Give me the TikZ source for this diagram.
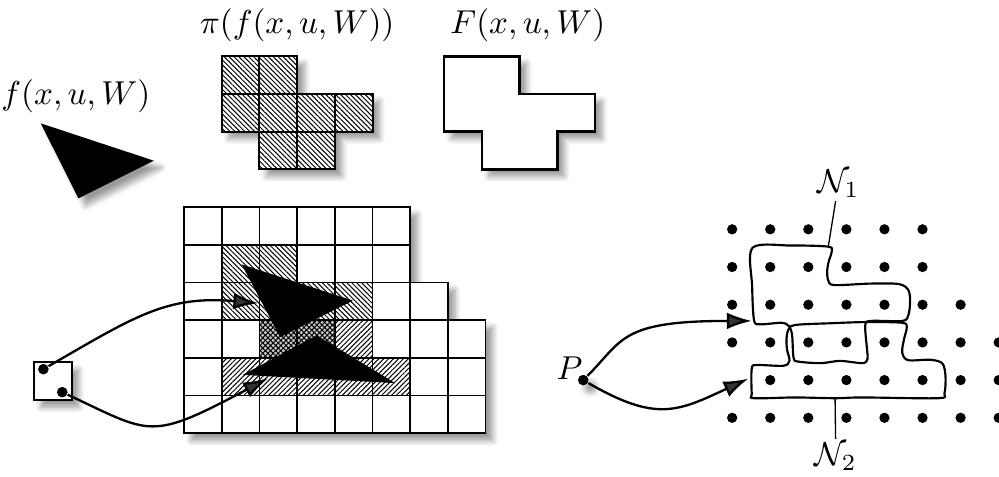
\documentclass[tikz,border=0pt]{standalone}
\usepackage{amsmath}
\usetikzlibrary{arrows.meta, patterns.meta, shadows.blur, calc}
\tikzset{
  gridcell/.style  = {draw=black, line width=0.5pt},
  picell/.style    = {draw=black, semithick},
  hatchnw/.style   = {pattern={Lines[angle=-45,distance=1.05pt,line width=0.3pt]}},
  hatchne/.style   = {pattern={Lines[angle=45,distance=1.05pt,line width=0.3pt]}},
  hatchx/.style    = {preaction={fill=black!22},
                      pattern={Hatch[angle=45,distance=1.1pt,line width=0.3pt]}},
  shadowed/.style  = {fill=white, blur shadow={shadow blur steps=6}},
  outline/.style   = {draw=black, thick},
  conn/.style      = {line width=0.7pt, -{Latex[length=7.5pt,width=5pt]}},
  region/.style    = {line width=0.65pt},
  leader/.style    = {thin},
  dotnode/.style   = {circle, fill=black, inner sep=0pt, minimum size=3.2pt},
  lbl/.style       = {inner sep=1pt},
}

\begin{document}
\begin{tikzpicture}[x=0.4cm,y=0.4cm]
  \useasboundingbox (-4.881,-1.159) rectangle (21.618,11.493);

  % f(x,u,W): the set itself
  \node[lbl] (flbl) at (-2.87,8.93) {$f(x,u,W)$};
  \fill[black, blur shadow={shadow blur steps=6}] (-3.80,8.22) -- (-0.80,7.23) -- (-2.80,6.23) -- cycle;

  % its cover by cells
  \node[lbl] (pilbl) at (3,10.82) {$\pi(f(x,u,W))$};
  \path[shadowed] (1,10) -- (3,10) -- (3,9) -- (5,9) -- (5,8) -- (4,8) -- (4,7)
    -- (2,7) -- (2,8) -- (1,8) -- cycle;
  \foreach \c/\r in {1/9,2/9,1/8,2/8,3/8,4/8,2/7,3/7}
    \fill[hatchnw] (\c,\r) rectangle ++(1,1);
  \foreach \c/\r in {1/9,2/9,1/8,2/8,3/8,4/8,2/7,3/7}
    \draw[picell] (\c,\r) rectangle ++(1,1);

  % outer approximation
  \node[lbl] (Flbl) at (9.12,10.82) {$F(x,u,W)$};
  \draw[shadowed, outline] (6.9,10) -- (8.9,10) -- (8.9,9) -- (10.9,9) -- (10.9,8)
    -- (9.9,8) -- (9.9,7) -- (7.9,7) -- (7.9,8) -- (6.9,8) -- cycle;

  % cell grid
  \path[shadowed] (0,0) -- (8,0) -- (8,3) -- (7,3) -- (7,4) -- (6,4) -- (6,6)
    -- (0,6) -- cycle;
  \foreach \c/\r in {1/4,2/4,1/3,2/3,3/3,4/3}
    \fill[hatchnw] (\c,\r) rectangle ++(1,1);
  \foreach \c/\r in {4/2,1/1,2/1,3/1,4/1,5/1}
    \fill[hatchne] (\c,\r) rectangle ++(1,1);
  \foreach \c in {2,3}
    \fill[hatchx] (\c,2) rectangle ++(1,1);
  \foreach \r/\w in {0/8,1/8,2/8,3/7,4/6,5/6}
    \foreach \c in {1,...,\w}
      \draw[gridcell] (\c-1,\r) rectangle (\c,\r+1);

  % images of the box
  \fill[black] (1.53,4.48) -- (4.48,3.52) -- (2.55,2.55) -- cycle;
  \fill[black] (1.56,1.55) -- (3.52,2.60) -- (5.60,1.33) -- cycle;

  % box of states
  \draw[shadowed, semithick] (-3.98,0.88) rectangle (-2.98,1.88);
  \node[dotnode] (bx1) at (-3.73,1.70) {};
  \node[dotnode] (bx2) at (-3.23,1.09) {};
  \coordinate (tipA) at (1.97,3.45);
  \coordinate (tipB) at (2.23,1.46);
  \draw[conn] (bx1) .. controls +(30:2.8) and +(175:2.44) .. (tipA);
  \draw[conn] (bx2) .. controls +(-25:2.62) and +(208:3.59) .. (tipB);

  % lattice of points
  \foreach \j/\n in {5/5,4/5,3/6,2/7,0/7}
    \foreach \i in {0,...,\n}
      \fill (14.54+1.01*\i,0.41+\j) circle (1.55pt);
  \foreach \i in {1,...,7}
    \fill (14.54+1.01*\i,1.41) circle (1.55pt);

  % neighbourhoods
  \draw[region] plot[smooth cycle, tension=0.5] coordinates {
    (15.08,4.92) (16.1,4.98) (17.09,4.95) (17.18,4.82) (17.10,4.55) (17.06,4.30)
    (17.09,4.05) (17.25,3.93) (18.2,3.97) (18.95,3.96) (19.20,3.82) (19.26,3.55)
    (19.22,3.15) (19.06,2.98) (18.22,2.98) (18.07,2.86) (18.12,2.2) (18.13,1.97)
    (18.0,1.86) (17.4,1.92) (16.9,1.86) (16.3,1.90) (16.17,2.0) (16.13,2.6)
    (16.05,2.84) (15.85,2.93) (15.28,2.89) (15.12,3.0) (15.07,3.9)};
  \draw[region] plot[smooth cycle, tension=0.5] coordinates {
    (15.06,1.72) (15.2,1.81) (15.9,1.79) (16.06,1.92) (16.0,2.2) (15.98,2.45)
    (16.02,2.72) (16.2,2.87) (17.2,2.92) (18.11,2.95) (19.06,2.93) (19.17,2.80)
    (19.10,2.50) (19.05,2.15) (19.2,1.94) (19.8,1.95) (20.12,1.85) (20.2,1.5)
    (20.17,1.05) (20.0,0.93) (18.0,0.95) (17.27,0.93) (16.2,0.95) (15.12,0.93)
    (15.06,1.05)};
  \coordinate (n1pt) at (17.09,4.95);
  \coordinate (n2pt) at (17.27,0.93);
  \node[lbl] (n1lbl) at (17.36,6.63) {$\mathcal{N}_1$};
  \node[lbl] (n2lbl) at (17.29,-0.62) {$\mathcal{N}_2$};
  \draw[leader] (n1lbl) -- (n1pt);
  \draw[leader] (n2lbl) -- (n2pt);

  % the point P
  \node[dotnode, blur shadow={shadow blur steps=4}] (pdot) at (10.59,1.41) {};
  \node[inner sep=0pt, anchor=south east] (plbl) at (pdot.center) {$P$};
  \coordinate (tipC) at (15.06,2.98);
  \coordinate (tipD) at (14.97,1.45);
  \draw[conn] (pdot) .. controls +(45:1.5) and +(180:3.5) .. (tipC);
  \draw[conn] (pdot) to[out=-30, in=205, looseness=1.25] (tipD);
\end{tikzpicture}
\end{document}
